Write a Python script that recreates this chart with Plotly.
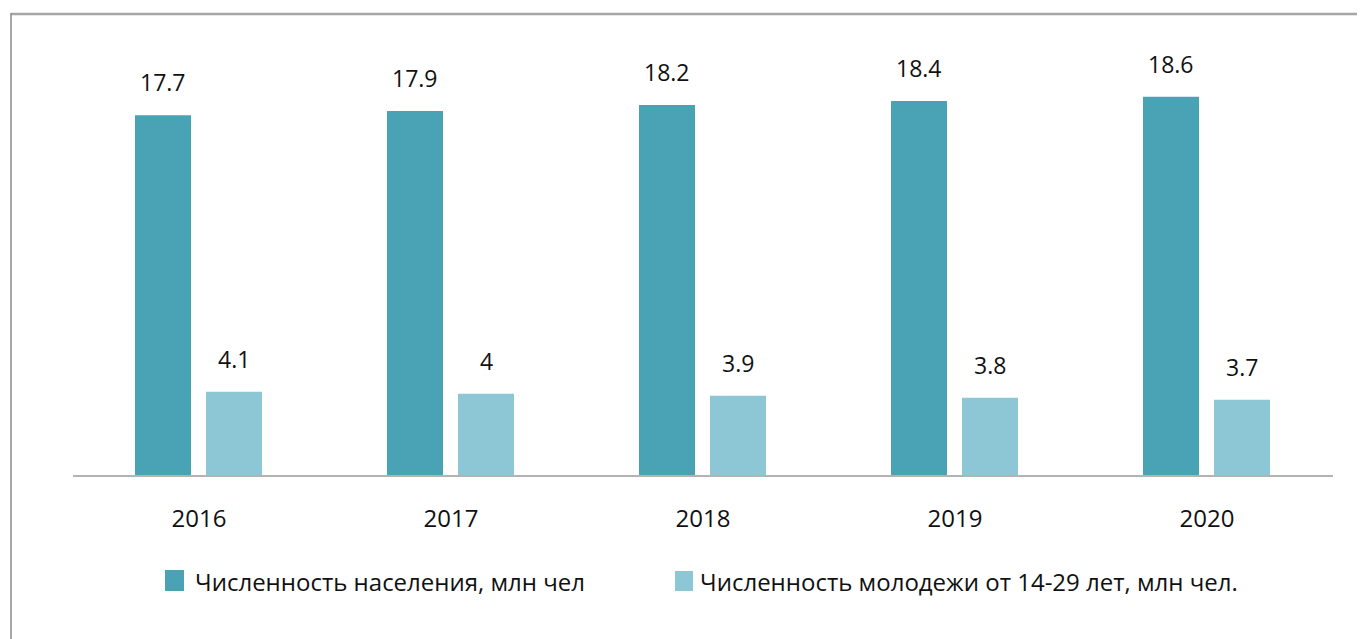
import plotly.graph_objects as go

years = ["2016", "2017", "2018", "2019", "2020"]
population = [17.7, 17.9, 18.2, 18.4, 18.6]
youth = [4.1, 4.0, 3.9, 3.8, 3.7]
name_pop = "Численность населения, млн чел"
name_youth = "Численность молодежи от 14-29 лет, млн чел."
value_labels_pop = ["17.7", "17.9", "18.2", "18.4", "18.6"]
value_labels_youth = ["4.1", "4", "3.9", "3.8", "3.7"]

DARK = "#49A3B4"
LIGHT = "#8DC6D5"
TXT = "#111111"

# page body has an 8px margin; figure is sized so it ends at the window edge
OFF = 8
W, H = 1365 - OFF, 639 - OFF
L, R, T, B = 73 - OFF, 32, 13 - OFF, 164
PW, PH = W - L - R, H - T - B

def px_x(p):
    return (p - OFF - L) / PW

def px_y(p):
    return (H - B - (p - OFF)) / PH

bw = 56 / 252
off_dark = -64 / 252
off_light = 7 / 252

fig = go.Figure()
fig.add_trace(go.Bar(x=years, y=population, name=name_pop, marker_color=DARK,
                     width=bw, offset=off_dark, marker_line_width=0, showlegend=False))
fig.add_trace(go.Bar(x=years, y=youth, name=name_youth, marker_color=LIGHT,
                     width=bw, offset=off_light, marker_line_width=0, showlegend=False))

vfont = dict(size=23, color=TXT, family="Open Sans")
annots = []
for i, y in enumerate(years):
    annots.append(dict(x=i + off_dark + bw / 2, y=population[i], xref="x", yref="y",
                       text=value_labels_pop[i], showarrow=False, yshift=33,
                       yanchor="middle", font=vfont))
    annots.append(dict(x=i + off_light + bw / 2, y=youth[i], xref="x", yref="y",
                       text=value_labels_youth[i], showarrow=False, yshift=33,
                       yanchor="middle", font=vfont))

lfont = dict(size=24, color=TXT, family="Open Sans")
annots.append(dict(x=px_x(193), y=px_y(581), xref="paper", yref="paper", text=name_pop,
                   showarrow=False, xanchor="left", yanchor="middle", font=lfont))
annots.append(dict(x=px_x(698), y=px_y(581), xref="paper", yref="paper", text=name_youth,
                   showarrow=False, xanchor="left", yanchor="middle", font=lfont))

shapes = [
    dict(type="rect", xref="paper", yref="paper", x0=px_x(165), x1=px_x(184),
         y0=px_y(591), y1=px_y(570), fillcolor=DARK, line=dict(width=0)),
    dict(type="rect", xref="paper", yref="paper", x0=px_x(675), x1=px_x(693),
         y0=px_y(591), y1=px_y(571), fillcolor=LIGHT, line=dict(width=0)),
    # frame
    dict(type="line", xref="paper", yref="paper", x0=px_x(11), x1=px_x(1370),
         y0=px_y(14), y1=px_y(14), line=dict(color="#a6a6a6", width=2.5)),
    dict(type="line", xref="paper", yref="paper", x0=px_x(11), x1=px_x(11),
         y0=px_y(13), y1=px_y(645), line=dict(color="#8a8a8a", width=1.5)),
]

fig.update_layout(
    width=W, height=H,
    margin=dict(l=L, r=R, t=T, b=B),
    paper_bgcolor="white", plot_bgcolor="white",
    barmode="overlay",
    annotations=annots, shapes=shapes,
    showlegend=False,
    font=dict(family="Open Sans", color=TXT),
)
fig.update_xaxes(type="category", range=[-0.5, 4.5], showline=True, linecolor="#b3b3b3",
                 linewidth=1.5, ticks="", showgrid=False, zeroline=False,
                 tickfont=dict(size=24, color=TXT, family="Open Sans"),
                 ticklabelstandoff=21)
fig.update_yaxes(range=[0, PH / 20.33], visible=False, showgrid=False, zeroline=False)

fig.write_html("out.html")
